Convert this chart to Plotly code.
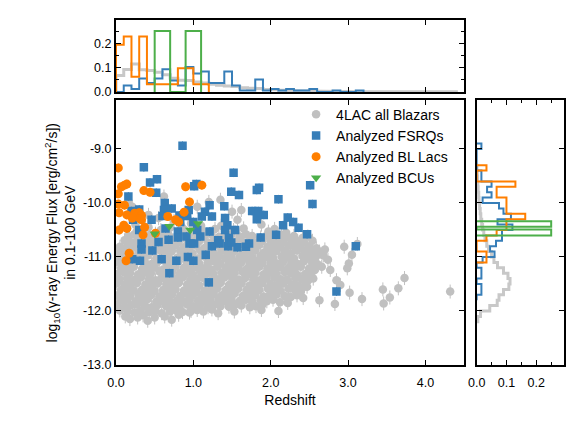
import numpy as np
import plotly.graph_objects as go

# ---- scatter data (redshift, log10 energy flux) ----
fsrq_z = [
    0.86, 0.36, 0.53, 0.44, 0.52, 0.16, 1.01, 1.04, 1.52, 1.49,
    1.59, 1.82, 1.85, 2.10, 2.51, 2.54, 0.63, 0.62, 0.72, 0.20,
    0.30, 0.22, 0.46, 0.60, 0.30, 0.64, 0.80, 0.94, 0.92, 1.00,
    0.82, 0.83, 1.21, 1.15, 1.11, 1.24, 1.40, 1.41, 1.44, 1.41,
    1.54, 1.76, 1.84, 1.91, 1.82, 2.22, 2.29, 2.36, 2.16, 2.47,
    2.07, 1.87, 1.68, 3.10, 0.91, 0.95, 1.01, 1.09, 1.05, 1.21,
    1.24, 1.32, 0.55, 0.68, 0.80, 0.33, 0.33, 0.47, 1.46, 1.45,
    1.57, 1.72, 0.59, 0.31, 0.21, 0.78, 0.93, 1.00, 1.16, 0.69,
    1.20, 2.85, 1.34, 1.49,
]
fsrq_flux = [
    -8.94, -9.34, -9.56, -9.62, -9.81, -9.88, -9.69, -9.65, -9.44, -9.79,
    -9.85, -9.76, -9.72, -9.93, -9.67, -10.02, -10.00, -10.13, -10.10, -10.15,
    -10.12, -10.31, -10.31, -10.24, -10.50, -10.47, -10.53, -10.13, -10.24, -10.35,
    -10.23, -10.35, -10.04, -10.16, -10.25, -10.25, -10.06, -10.28, -10.41, -10.50,
    -10.50, -10.15, -10.15, -10.22, -10.30, -10.27, -10.35, -10.46, -10.41, -10.58,
    -10.59, -10.64, -10.81, -10.80, -10.62, -10.75, -10.75, -10.62, -10.50, -10.53,
    -10.80, -10.69, -10.72, -10.68, -10.64, -10.75, -10.86, -10.88, -10.65, -10.80,
    -10.82, -10.75, -11.04, -11.07, -11.04, -11.07, -11.00, -11.07, -10.96, -11.30,
    -11.47, -11.64, -10.75, -10.73,
]

bll_z = [
    0.03, 0.07, 0.11, 0.14, 0.03, 0.36, 0.44, 0.90, 1.11, 0.03,
    0.11, 0.95, 0.04, 0.14, 0.24, 0.30, 0.33, 0.21, 0.31, 0.33,
    0.37, 0.10, 0.04, 0.14, 0.67, 0.77, 0.81, 0.88, 0.35, 0.51,
    0.17, 0.13,
]
bll_flux = [
    -9.35, -9.70, -9.67, -9.65, -9.83, -9.77, -9.80, -9.70, -9.67, -10.02,
    -10.04, -9.98, -10.18, -10.22, -10.19, -10.18, -10.23, -10.28, -10.29, -10.31,
    -10.45, -10.41, -10.50, -10.47, -10.25, -10.31, -10.35, -10.17, -10.59, -10.56,
    -10.93, -11.07,
]

bcu_z = [0.50, 0.69, 0.96, 1.06]
bcu_flux = [-10.57, -10.43, -10.50, -10.38]

gray_z = [
    # scattered sources above the bulk
    0.62, 1.35, 1.50, 1.57, 0.42, 1.05, 1.20, 0.16, 0.21, 0.55,
    0.75, 0.97, 0.25, 1.62, 1.36, 1.88, 2.05, 0.85, 1.10, 0.38,
    # upper edge of the bulk
    0.14, 0.27, 0.42, 0.58, 0.70, 0.88, 1.03, 1.12, 1.28, 1.52, 1.65, 1.97, 2.20,
    # bulk, ~-10.6
    0.16, 0.24, 0.32, 0.43, 0.51, 0.61, 0.68, 0.79, 0.87, 0.95, 1.06, 1.14, 1.22, 1.33,
    1.41, 1.49, 1.60, 1.68, 1.76, 1.87, 1.95, 2.03, 2.14, 2.22, 2.30, 2.41, 2.48,
    # ~-10.7
    0.11, 0.19, 0.27, 0.38, 0.46, 0.54, 0.65, 0.73, 0.81, 0.92, 1.00, 1.08, 1.19, 1.27,
    1.35, 1.46, 1.54, 1.62, 1.73, 1.81, 1.89, 2.00, 2.08, 2.16, 2.27, 2.35, 2.43, 2.54,
    # ~-10.8
    0.05, 0.15, 0.23, 0.34, 0.42, 0.50, 0.61, 0.69, 0.77, 0.88, 0.96, 1.04, 1.15, 1.23, 1.31,
    1.42, 1.50, 1.58, 1.69, 1.77, 1.85, 1.96, 2.04, 2.12, 2.23, 2.31, 2.39, 2.50, 2.59,
    # ~-10.9
    0.02, 0.10, 0.18, 0.29, 0.37, 0.45, 0.56, 0.64, 0.72, 0.83, 0.91, 0.99, 1.10, 1.18, 1.26,
    1.37, 1.45, 1.53, 1.64, 1.72, 1.80, 1.91, 1.99, 2.07, 2.18, 2.26, 2.34, 2.45, 2.53, 2.63,
    # ~-11.0
    0.06, 0.14, 0.25, 0.33, 0.41, 0.52, 0.60, 0.68, 0.79, 0.87, 0.95, 1.06, 1.14, 1.22, 1.33,
    1.41, 1.49, 1.60, 1.68, 1.76, 1.87, 1.95, 2.03, 2.14, 2.22, 2.30, 2.41, 2.49, 2.57, 2.68,
    # ~-11.1
    0.01, 0.11, 0.19, 0.27, 0.38, 0.46, 0.54, 0.65, 0.73, 0.81, 0.92, 1.00, 1.08, 1.19, 1.27,
    1.35, 1.46, 1.54, 1.62, 1.73, 1.81, 1.89, 2.00, 2.08, 2.16, 2.27, 2.35, 2.43, 2.54, 2.61,
    # ~-11.2
    0.07, 0.15, 0.23, 0.34, 0.42, 0.50, 0.61, 0.69, 0.77, 0.88, 0.96, 1.04, 1.15, 1.23, 1.31,
    1.42, 1.50, 1.58, 1.69, 1.77, 1.85, 1.96, 2.04, 2.12, 2.23, 2.31, 2.39, 2.50, 2.57,
    # ~-11.3
    0.02, 0.10, 0.18, 0.29, 0.37, 0.45, 0.56, 0.64, 0.72, 0.83, 0.91, 0.99, 1.10, 1.18, 1.26,
    1.37, 1.45, 1.53, 1.64, 1.72, 1.80, 1.91, 1.99, 2.07, 2.18, 2.26, 2.34, 2.45, 2.52,
    # ~-11.4
    0.05, 0.15, 0.24, 0.32, 0.43, 0.51, 0.59, 0.70, 0.78, 0.86, 0.97, 1.05, 1.13, 1.24,
    1.32, 1.40, 1.51, 1.59, 1.67, 1.78, 1.86, 1.94, 2.05, 2.13, 2.21, 2.32, 2.40, 2.48,
    # ~-11.5
    0.01, 0.11, 0.19, 0.27, 0.38, 0.46, 0.54, 0.65, 0.73, 0.81, 0.92, 1.00, 1.08, 1.19,
    1.27, 1.35, 1.46, 1.54, 1.62, 1.73, 1.81, 1.89, 2.00, 2.08, 2.16, 2.27, 2.35, 2.43,
    # ~-11.6
    0.07, 0.15, 0.23, 0.34, 0.42, 0.50, 0.61, 0.69, 0.77, 0.88, 0.96, 1.04, 1.15, 1.23,
    1.31, 1.42, 1.50, 1.58, 1.69, 1.77, 1.85, 1.96, 2.04, 2.12, 2.23, 2.31, 2.39,
    # ~-11.7
    0.02, 0.10, 0.18, 0.29, 0.37, 0.45, 0.56, 0.64, 0.72, 0.83, 0.91, 0.99, 1.10, 1.18,
    1.26, 1.37, 1.45, 1.53, 1.64, 1.72, 1.80, 1.91, 1.99, 2.07, 2.18, 2.26, 2.34,
    # ~-11.8
    0.06, 0.14, 0.25, 0.33, 0.41, 0.52, 0.60, 0.68, 0.79, 0.87, 0.95, 1.06,
    1.14, 1.22, 1.33, 1.41, 1.49, 1.60, 1.68, 1.76, 1.87, 1.95, 2.03, 2.12,
    # ~-11.9
    0.01, 0.11, 0.19, 0.27, 0.38, 0.46, 0.54, 0.65, 0.73, 0.81, 0.92,
    1.00, 1.08, 1.19, 1.27, 1.35, 1.46, 1.54, 1.62, 1.73, 1.81, 1.89,
    # ~-12.0
    0.05, 0.15, 0.24, 0.32, 0.43, 0.51, 0.59, 0.70, 0.78, 0.86, 0.97, 1.05, 1.13, 1.24,
    # faint stragglers
    0.12, 0.18, 0.28, 0.41, 0.50, 0.63, 0.72, 0.81, 0.95, 1.32, 0.35,
    # high-redshift tail
    2.70, 2.95, 3.01, 3.05, 2.99, 2.66, 2.77, 2.85, 2.90, 3.02,
    2.63, 2.83, 3.18, 3.45, 3.46, 3.54, 3.65, 3.73, 4.32, 3.12,
    2.55, 2.47, 2.42, 2.10, 1.88, 1.53, 2.22, 2.62, 2.74,
]
gray_flux = [
    -9.88, -9.94, -10.16, -10.31, -10.22, -10.07, -9.98, -9.98, -10.07, -10.28,
    -10.33, -10.38, -10.40, -10.13, -10.42, -10.40, -10.48, -10.45, -10.42, -10.46,
    -10.47, -10.52, -10.45, -10.50, -10.46, -10.49, -10.44, -10.52, -10.48, -10.50, -10.47, -10.53, -10.55,
    -10.61, -10.58, -10.63, -10.60, -10.57, -10.62, -10.59, -10.64, -10.60, -10.58, -10.62, -10.61, -10.57, -10.63,
    -10.60, -10.59, -10.62, -10.58, -10.61, -10.64, -10.60, -10.62, -10.59, -10.63, -10.61, -10.65, -10.62,
    -10.69, -10.72, -10.70, -10.67, -10.71, -10.73, -10.69, -10.70, -10.72, -10.68, -10.71, -10.70, -10.73, -10.69,
    -10.71, -10.68, -10.72, -10.70, -10.69, -10.73, -10.71, -10.68, -10.70, -10.72, -10.69, -10.71, -10.73, -10.70,
    -10.81, -10.79, -10.82, -10.78, -10.80, -10.83, -10.79, -10.81, -10.78, -10.82, -10.80, -10.79, -10.83, -10.80, -10.78,
    -10.81, -10.82, -10.79, -10.80, -10.83, -10.78, -10.81, -10.80, -10.82, -10.79, -10.81, -10.83, -10.80, -10.84,
    -10.91, -10.88, -10.90, -10.93, -10.89, -10.91, -10.87, -10.92, -10.90, -10.88, -10.91, -10.93, -10.89, -10.90, -10.92,
    -10.88, -10.91, -10.89, -10.93, -10.90, -10.88, -10.92, -10.91, -10.89, -10.90, -10.93, -10.88, -10.91, -10.92, -10.90,
    -11.01, -10.98, -11.02, -11.00, -10.97, -11.03, -10.99, -11.01, -11.02, -10.98, -11.00, -11.03, -10.99, -11.01, -10.98,
    -11.02, -11.00, -10.99, -11.03, -11.01, -10.98, -11.00, -11.02, -10.99, -11.01, -11.03, -10.98, -11.00, -11.02, -10.97,
    -11.09, -11.12, -11.10, -11.08, -11.11, -11.13, -11.09, -11.10, -11.12, -11.08, -11.11, -11.09, -11.13, -11.10, -11.08,
    -11.12, -11.11, -11.09, -11.10, -11.13, -11.08, -11.11, -11.10, -11.12, -11.09, -11.11, -11.13, -11.08, -11.10, -11.14,
    -11.19, -11.21, -11.18, -11.22, -11.20, -11.19, -11.23, -11.21, -11.18, -11.20, -11.22, -11.19, -11.21, -11.23, -11.18,
    -11.20, -11.21, -11.19, -11.22, -11.20, -11.18, -11.21, -11.23, -11.19, -11.20, -11.22, -11.18, -11.21, -11.24,
    -11.31, -11.28, -11.30, -11.32, -11.29, -11.31, -11.27, -11.33, -11.30, -11.29, -11.31, -11.32, -11.28, -11.30, -11.31,
    -11.29, -11.33, -11.30, -11.28, -11.31, -11.30, -11.32, -11.29, -11.31, -11.28, -11.30, -11.33, -11.31, -11.35,
    -11.41, -11.39, -11.42, -11.38, -11.40, -11.43, -11.39, -11.41, -11.40, -11.38, -11.42, -11.40, -11.39, -11.43,
    -11.41, -11.38, -11.40, -11.42, -11.39, -11.41, -11.43, -11.40, -11.38, -11.41, -11.42, -11.39, -11.41, -11.44,
    -11.49, -11.52, -11.50, -11.48, -11.51, -11.53, -11.49, -11.50, -11.52, -11.48, -11.51, -11.50, -11.53, -11.49,
    -11.51, -11.48, -11.52, -11.50, -11.49, -11.53, -11.51, -11.48, -11.50, -11.52, -11.49, -11.51, -11.53, -11.55,
    -11.61, -11.58, -11.62, -11.60, -11.59, -11.63, -11.61, -11.58, -11.60, -11.62, -11.59, -11.61, -11.63, -11.60,
    -11.58, -11.61, -11.62, -11.59, -11.60, -11.63, -11.61, -11.58, -11.60, -11.62, -11.59, -11.61, -11.64,
    -11.71, -11.69, -11.72, -11.70, -11.68, -11.71, -11.73, -11.69, -11.70, -11.72, -11.68, -11.71, -11.70, -11.73,
    -11.69, -11.71, -11.70, -11.68, -11.72, -11.70, -11.71, -11.73, -11.69, -11.70, -11.72, -11.74, -11.71,
    -11.81, -11.79, -11.82, -11.80, -11.78, -11.83, -11.81, -11.79, -11.80, -11.82, -11.79, -11.81,
    -11.83, -11.80, -11.78, -11.82, -11.80, -11.81, -11.79, -11.83, -11.80, -11.82, -11.79, -11.84,
    -11.89, -11.92, -11.90, -11.88, -11.91, -11.93, -11.89, -11.91, -11.90, -11.92, -11.88,
    -11.91, -11.90, -11.93, -11.89, -11.91, -11.92, -11.88, -11.90, -11.93, -11.91, -11.89,
    -11.99, -12.01, -12.03, -11.99, -12.02, -12.00, -12.04, -12.01, -11.99, -12.02, -12.00, -11.98, -12.01, -11.97,
    -12.10, -12.15, -12.12, -12.18, -12.12, -12.10, -12.16, -12.07, -12.03, -12.04, -12.08,
    -10.86, -10.81, -11.12, -10.96, -11.21, -11.18, -11.24, -11.43, -11.52, -11.66,
    -11.80, -11.87, -11.78, -11.60, -11.86, -11.75, -11.58, -11.39, -11.64, -10.76,
    -11.40, -11.55, -11.76, -12.00, -11.98, -12.01, -11.85, -10.95, -11.05,
]
assert len(gray_z) == len(gray_flux)

# ---- normalised histograms, 0.1 wide bins ----
z_hist_start = 0.0
all_z_frac = [0.068, 0.092, 0.115, 0.091, 0.088, 0.081, 0.071, 0.057, 0.048, 0.047,
              0.041, 0.037, 0.032, 0.028, 0.025, 0.023, 0.018, 0.016, 0.015, 0.011,
              0.010, 0.008, 0.006, 0.005, 0.005, 0.004, 0.004, 0.003, 0.003, 0.002,
              0.002, 0.002, 0.001, 0.001, 0.001, 0.001, 0.001, 0.001, 0.001, 0.0,
              0.0, 0.0, 0.0, 0.001]
fsrq_z_frac = [0.0, 0.027, 0.013, 0.056, 0.037, 0.056, 0.093, 0.047, 0.027, 0.103,
               0.076, 0.084, 0.037, 0.037, 0.084, 0.027, 0.007, 0.007, 0.052, 0.007,
               0.013, 0.007, 0.013, 0.007, 0.007, 0.013, 0.0, 0.0, 0.007, 0.0,
               0.0, 0.007]
bll_z_frac = [0.194, 0.227, 0.063, 0.227, 0.032, 0.032, 0.032, 0.032, 0.098, 0.098,
              0.032, 0.032]
bcu_z_edges = [0.5, 0.7, 0.9, 1.1]
bcu_z_frac = [0.25, 0.0, 0.25]

all_flux_start = -12.2
all_flux_frac = [0.004, 0.013, 0.044, 0.069, 0.075, 0.090, 0.108, 0.112, 0.105, 0.090,
                 0.070, 0.058, 0.050, 0.040, 0.034, 0.028, 0.024, 0.020, 0.017, 0.014,
                 0.012, 0.010, 0.008, 0.007, 0.005, 0.004, 0.003, 0.002, 0.001]
fsrq_flux_start = -11.8
fsrq_flux_frac = [0.0, 0.016, 0.016, 0.0, 0.016, 0.016, 0.0, 0.020, 0.060, 0.045,
                  0.065, 0.085, 0.085, 0.120, 0.070, 0.115, 0.090, 0.075, 0.020, 0.050,
                  0.035, 0.050, 0.016, 0.016, 0.0, 0.0, 0.0, 0.0, 0.016]
bll_flux_start = -11.1
bll_flux_frac = [0.033, 0.033, 0.0, 0.0, 0.033, 0.067, 0.100, 0.100, 0.163, 0.100,
                 0.100, 0.100, 0.067, 0.067, 0.130, 0.0, 0.0, 0.033]
bcu_flux_edges = [-10.60, -10.49, -10.44, -10.34]
bcu_flux_frac = [0.25, 0.0, 0.25]

GRAY = "#c0c0c0"
BLUE = "#377eb8"
ORANGE = "#ff7f00"
GREEN = "#4daf4a"
FONT = "Liberation Sans, Arial, sans-serif"


def bin_edges(start, n, width=0.1):
    return [round(start + width * i, 3) for i in range(n + 1)]


def step_outline(edges, values):
    # outline of a 'step' histogram, closed down to zero at both ends
    pos, hgt = [edges[0]], [0.0]
    for lo, hi, v in zip(edges[:-1], edges[1:], values):
        pos += [lo, hi]
        hgt += [v, v]
    pos.append(edges[-1])
    hgt.append(0.0)
    return pos, hgt


fig = go.Figure()

# main scatter
fig.add_trace(go.Scatter(
    x=gray_z, y=gray_flux, mode="markers", name="4LAC all Blazars",
    marker=dict(color=GRAY, size=8.5, symbol="circle"),
    error_y=dict(type="constant", value=0.13, color=GRAY, thickness=1, width=0),
))
fig.add_trace(go.Scatter(
    x=fsrq_z, y=fsrq_flux, mode="markers", name="Analyzed FSRQs",
    marker=dict(color=BLUE, size=8.5, symbol="square"),
    error_y=dict(type="constant", value=0.08, color=BLUE, thickness=1, width=0),
))
fig.add_trace(go.Scatter(
    x=bll_z, y=bll_flux, mode="markers", name="Analyzed BL Lacs",
    marker=dict(color=ORANGE, size=9, symbol="circle"),
    error_y=dict(type="constant", value=0.08, color=ORANGE, thickness=1, width=0),
))
fig.add_trace(go.Scatter(
    x=bcu_z, y=bcu_flux, mode="markers", name="Analyzed BCUs",
    marker=dict(color=GREEN, size=9, symbol="triangle-down"),
))

# redshift histograms (top)
top_hists = [
    (bin_edges(z_hist_start, len(all_z_frac)), all_z_frac, "#c8c8c8", 3),
    (bin_edges(z_hist_start, len(fsrq_z_frac)), fsrq_z_frac, BLUE, 2),
    (bin_edges(z_hist_start, len(bll_z_frac)), bll_z_frac, ORANGE, 2),
    (bcu_z_edges, bcu_z_frac, GREEN, 2),
]
for edges, frac, col, lw in top_hists:
    px, py = step_outline(edges, frac)
    fig.add_trace(go.Scatter(x=px, y=py, mode="lines", xaxis="x2", yaxis="y2",
                             line=dict(color=col, width=lw), showlegend=False,
                             hoverinfo="skip"))

# flux histograms (right)
right_hists = [
    (bin_edges(all_flux_start, len(all_flux_frac)), all_flux_frac, "#c8c8c8", 3),
    (bin_edges(fsrq_flux_start, len(fsrq_flux_frac)), fsrq_flux_frac, BLUE, 2),
    (bin_edges(bll_flux_start, len(bll_flux_frac)), bll_flux_frac, ORANGE, 2),
    (bcu_flux_edges, bcu_flux_frac, GREEN, 2),
]
for edges, frac, col, lw in right_hists:
    py, px = step_outline(edges, frac)
    fig.add_trace(go.Scatter(x=px, y=py, mode="lines", xaxis="x3", yaxis="y3",
                             line=dict(color=col, width=lw), showlegend=False,
                             hoverinfo="skip"))

frame = dict(showline=True, linecolor="black", linewidth=2, mirror="allticks",
             ticks="inside", ticklen=5, tickwidth=1, tickcolor="black",
             showgrid=False, zeroline=False, automargin=False,
             tickfont=dict(size=12.5, color="black"))
minor = dict(ticks="inside", dtick=0.05, ticklen=3, tickcolor="black", showgrid=False)

flux_ticks = [-13, -12, -11, -10, -9]
flux_labels = ["-13.0", "-12.0", "-11.0", "-10.0", "-9.0"]
z_ticks = [0, 1, 2, 3, 4]
frac_ticks = [0, 0.1, 0.2]

# the page body adds an 8px offset, so the figure is 8px smaller than the window
fig.update_layout(
    width=573, height=418,
    margin=dict(l=108, r=17, t=12, b=61),
    paper_bgcolor="white", plot_bgcolor="white",
    font=dict(family=FONT, size=12, color="black"),
    xaxis=dict(frame, domain=[0, 0.777], range=[0, 4.5], tickvals=z_ticks,
               tickformat=".1f", anchor="y", ticklabelstandoff=5,
               title=dict(text="Redshift", font=dict(size=14), standoff=6)),
    yaxis=dict(frame, domain=[0, 0.767], range=[-13, -8.1], tickvals=flux_ticks,
               ticktext=flux_labels, anchor="x",
               title=dict(text="log<sub>10</sub>(γ-ray Energy Flux [erg/cm<sup>2</sup>/s])"
                               "<br>in 0.1-100 GeV", font=dict(size=14), standoff=4)),
    xaxis2=dict(frame, domain=[0, 0.777], range=[0, 4.5], tickvals=z_ticks,
                showticklabels=False, anchor="y2"),
    yaxis2=dict(frame, domain=[0.791, 1], range=[0, 0.295], tickvals=frac_ticks,
                tickformat=".1f", minor=minor, anchor="x2"),
    xaxis3=dict(frame, domain=[0.805, 1], range=[0, 0.293], tickvals=frac_ticks,
                tickformat=".1f", minor=minor, anchor="y3", ticklabelstandoff=5),
    yaxis3=dict(frame, domain=[0, 0.767], range=[-13, -8.1], tickvals=flux_ticks,
                showticklabels=False, anchor="x3"),
    legend=dict(x=0.402, y=0.772, xanchor="left", yanchor="top",
                bgcolor="rgba(0,0,0,0)", font=dict(size=14)),
)

fig.write_html("out.html")
